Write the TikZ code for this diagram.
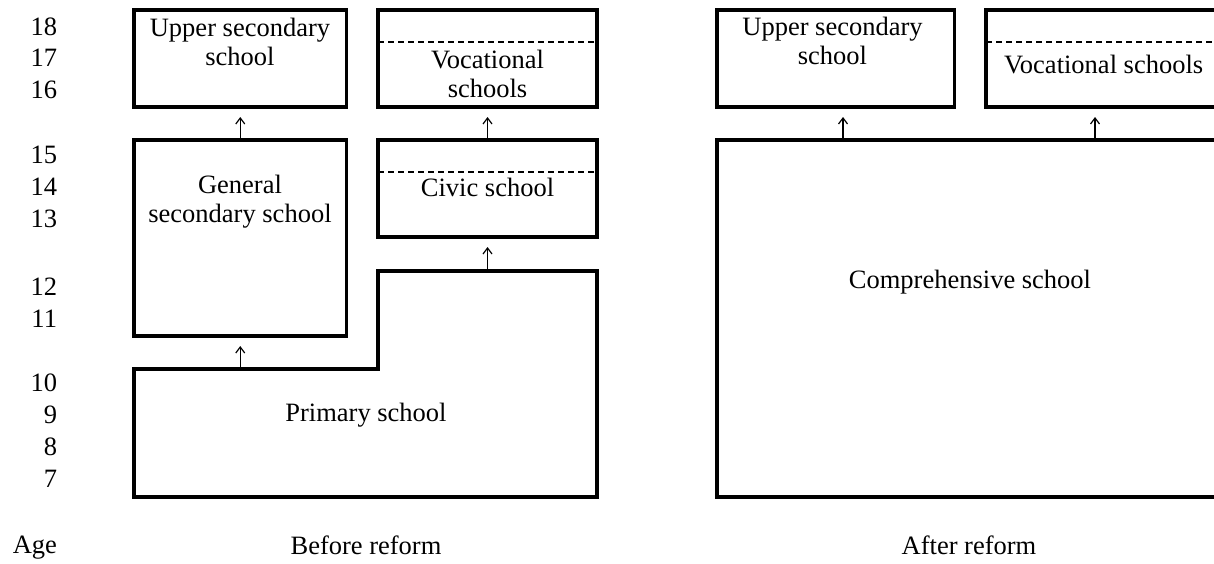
\documentclass[tikz,border=0pt]{standalone}
\usepackage{fontspec}
\setmainfont{Liberation Serif}
\usetikzlibrary{arrows.meta}
\begin{document}
\begin{tikzpicture}[x=1pt,y=-1pt,
  every node/.style={font=\fontsize{26.5}{29}\selectfont, inner sep=0pt, outer sep=0pt},
  schoolbox/.style={draw, line width=3.2pt, line join=miter},
  divider/.style={line width=2.4pt, dash pattern=on 6pt off 4pt},
  uparrow/.style={line width=1.2pt, -{Straight Barb[length=6pt,width=9pt]}, shorten >=10pt},
  lbl/.style={align=center},
  agelbl/.style={anchor=east}]
\useasboundingbox (0,0) rectangle (1214,563);
\clip (0,0) rectangle (1214,563);
% age labels
\foreach \a/\y in {18/27,17/58,16/90,15/155,14/187,13/219,12/287,11/319,10/383,9/415,8/447,7/479}
  \node[agelbl] (age\a) at (57,\y) {\a};
\node[agelbl] (agehead) at (57,548) {Age};

% ---------- Before reform ----------
\node[schoolbox, minimum width=212.5pt, minimum height=97pt] (usL) at (240.25,58.5) {};
\node[schoolbox, minimum width=219pt, minimum height=97pt] (vocL) at (487.5,58.5) {};
\node[schoolbox, minimum width=212.5pt, minimum height=196pt] (genL) at (240.25,238) {};
\node[schoolbox, minimum width=219pt, minimum height=97pt] (civL) at (487.5,188.5) {};
\draw[divider] ([yshift=-32pt]vocL.north west) -- ([yshift=-32pt]vocL.north east);
\draw[divider] ([yshift=-32pt]civL.north west) -- ([yshift=-32pt]civL.north east);
\draw[schoolbox] (134,369) -- (378,369) -- (378,271) -- (597,271) -- (597,497) -- (134,497) -- cycle;
\coordinate (primA) at (240.25,369);
\coordinate (primB) at (487.5,271);

\node[lbl] (usLt) at (240,41.5) {Upper secondary\\school};
\node[lbl] (vocLt) at (487.5,74) {Vocational\\schools};
\node[lbl] (genLt) at (240,202) {General\\secondary school};
\node[lbl] (civLt) at (487.5,187) {Civic school};
\node[lbl] (primt) at (366,415) {Primary school};

\draw[uparrow] (genL.north) -- (usL.south);
\draw[uparrow] (civL.north) -- (vocL.south);
\draw[uparrow] (primA) -- (primA |- genL.south);
\draw[uparrow] (primB) -- (primB |- civL.south);

\node[lbl] (before) at (366,545) {Before reform};

% ---------- After reform ----------
\node[schoolbox, minimum width=237.5pt, minimum height=97pt] (usR) at (835.75,58.5) {};
\node[schoolbox, minimum width=236pt, minimum height=97pt] (vocR) at (1104,58.5) {};
\node[schoolbox, minimum width=505pt, minimum height=357pt] (comp) at (969.5,318.5) {};
\draw[divider] ([yshift=-32pt]vocR.north west) -- ([yshift=-32pt]vocR.north east);

\node[lbl] (usRt) at (832.5,41) {Upper secondary\\school};
\node[lbl] (vocRt) at (1103.7,65) {Vocational schools};
\node[lbl] (compt) at (970,282) {Comprehensive school};

\coordinate (ra) at (843,0);
\coordinate (rb) at (1095,0);
\draw[uparrow] (comp.north -| ra) -- (usR.south -| ra);
\draw[uparrow] (comp.north -| rb) -- (vocR.south -| rb);

\node[lbl] (after) at (969,545) {After reform};
\end{tikzpicture}
\end{document}
